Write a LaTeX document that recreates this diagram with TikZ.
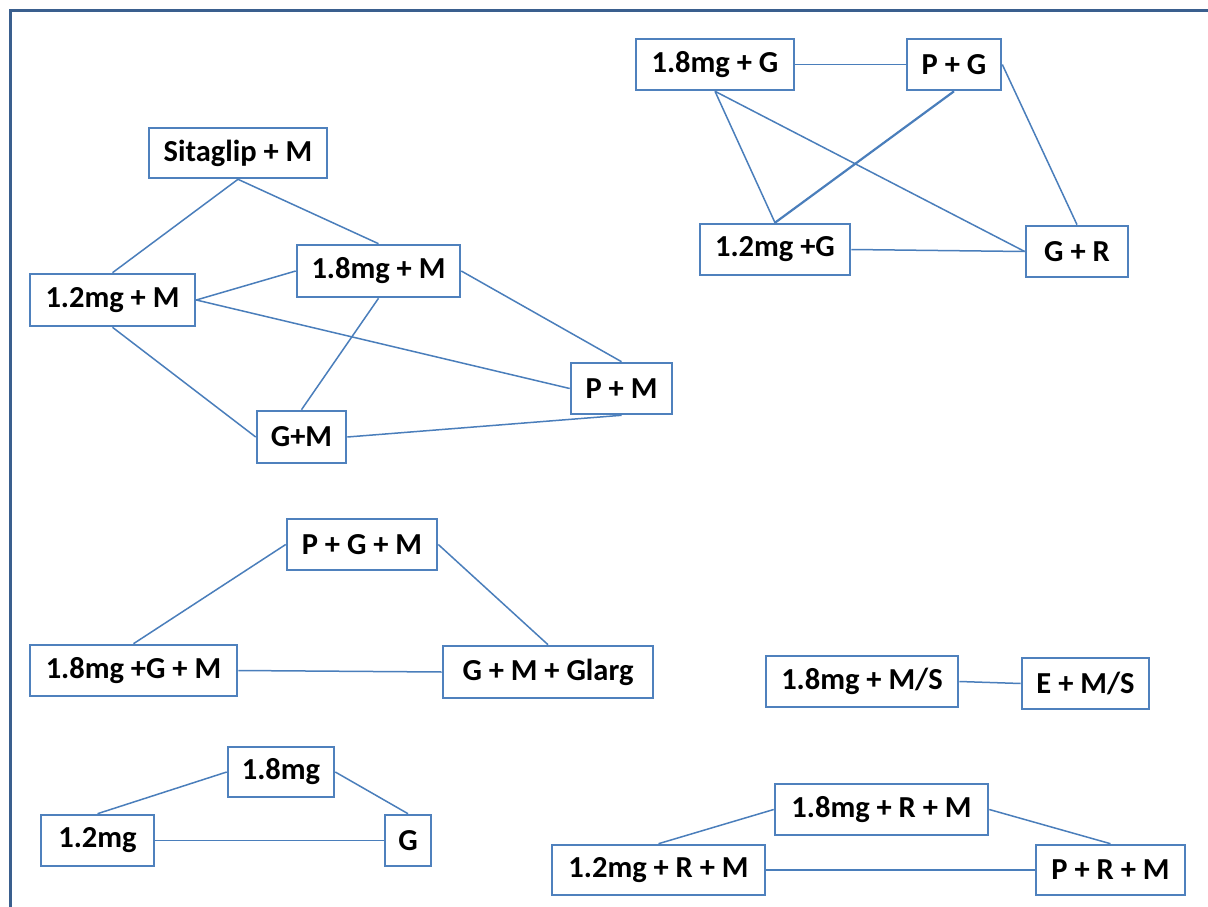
\documentclass[tikz,border=0pt]{standalone}
\usepackage{fontspec}
\setmainfont{Carlito}
\begin{document}
\begin{tikzpicture}[x=1pt,y=-1pt,
  box/.style={draw=boxblue, line width=2.6pt, fill=white, inner sep=0pt,
    font=\bfseries\fontsize{30.5}{34}\selectfont, text=black},
  link/.style={draw=lineblue, line width=1.5pt},
  thick link/.style={draw=lineblue, line width=2.2pt}]
\definecolor{boxblue}{HTML}{4F81BD}
\definecolor{lineblue}{HTML}{4A7EBB}
\definecolor{frameblue}{HTML}{3A5F8E}
\useasboundingbox (0,0) rectangle (1208,907);
\fill[white] (0,0) rectangle (1208,907);
\coordinate (fa) at (10.5,907);
\coordinate (fb) at (10.5,10.5);
\coordinate (fc) at (1208,10.5);
\draw[frameblue, line width=3.8pt] (fa) -- (fb) -- (fc);

% group 1
\node[box, minimum width=178pt, minimum height=50pt] (sita) at (238,153) {Sitaglip + M};
\node[box, minimum width=165pt, minimum height=52pt] (m12) at (112.5,300) {1.2mg + M};
\node[box, minimum width=163pt, minimum height=52pt] (m18) at (378.5,271) {1.8mg + M};
\node[box, minimum width=101pt, minimum height=51pt] (pm) at (621.5,388.5) {P + M};
\node[box, minimum width=89pt, minimum height=52pt] (gm) at (301.5,437) {G+M};

% group 2
\node[box, minimum width=158pt, minimum height=51pt] (g18) at (715,64.5) {1.8mg + G};
\node[box, minimum width=94pt, minimum height=51pt] (pg) at (954,64.5) {P + G};
\node[box, minimum width=150pt, minimum height=51pt] (g12) at (775,249.5) {1.2mg +G};
\node[box, minimum width=102pt, minimum height=51pt] (gr) at (1077,251.5) {G + R};

% group 3
\node[box, minimum width=150pt, minimum height=51pt] (pgm) at (362,544.5) {P + G + M};
\node[box, minimum width=207pt, minimum height=51pt] (gm18) at (133.5,670.5) {1.8mg +G + M};
\node[box, minimum width=210pt, minimum height=52pt] (gmg) at (548,672) {G + M + Glarg};

% group 4
\node[box, minimum width=106pt, minimum height=50pt] (mg18) at (281,772) {1.8mg};
\node[box, minimum width=113pt, minimum height=51pt] (mg12) at (97.5,840.5) {1.2mg};
\node[box, minimum width=46pt, minimum height=51pt] (gg) at (408,840.5) {G};

% group 5
\node[box, minimum width=192pt, minimum height=51pt] (ms18) at (862,681.5) {1.8mg + M/S};
\node[box, minimum width=127pt, minimum height=51pt] (ems) at (1085.5,683.5) {E + M/S};

% group 6
\node[box, minimum width=213pt, minimum height=51pt] (rm18) at (881.5,809.5) {1.8mg + R + M};
\node[box, minimum width=213pt, minimum height=50pt] (rm12) at (658.5,870) {1.2mg + R + M};
\node[box, minimum width=149pt, minimum height=50pt] (prm) at (1110.5,870) {P + R + M};

% connectors group 1
\draw[link] (sita.south) -- (m12.north);
\draw[link] (sita.south) -- (m18.north);
\draw[link] (m12.east) -- (m18.west);
\draw[link] (m12.east) -- (pm.west);
\draw[link] (m12.south) -- (gm.west);
\draw[link] (m18.south) -- (gm.north);
\draw[link] (m18.east) -- (pm.north);
\draw[link] (gm.east) -- (pm.south);

% connectors group 2
\draw[link] (g18.east) -- (pg.west);
\draw[link] (g18.south) -- (g12.north);
\draw[link] (g18.south) -- (gr.west);
\draw[thick link] (pg.south) -- (g12.north);
\draw[link] (pg.east) -- (gr.north);
\draw[link] (g12.east) -- (gr.west);

% connectors group 3
\draw[link] (pgm.west) -- (gm18.north);
\draw[link] (pgm.east) -- (gmg.north);
\draw[link] (gm18.east) -- (gmg.west);

% connectors group 4
\draw[link] (mg18.west) -- (mg12.north);
\draw[link] (mg18.east) -- (gg.north);
\draw[link] (mg12.east) -- (gg.west);

% connectors group 5
\draw[link] (ms18.east) -- (ems.west);

% connectors group 6
\draw[link] (rm18.west) -- (rm12.north);
\draw[link] (rm18.east) -- (prm.north);
\draw[link] (rm12.east) -- (prm.west);
\end{tikzpicture}
\end{document}
